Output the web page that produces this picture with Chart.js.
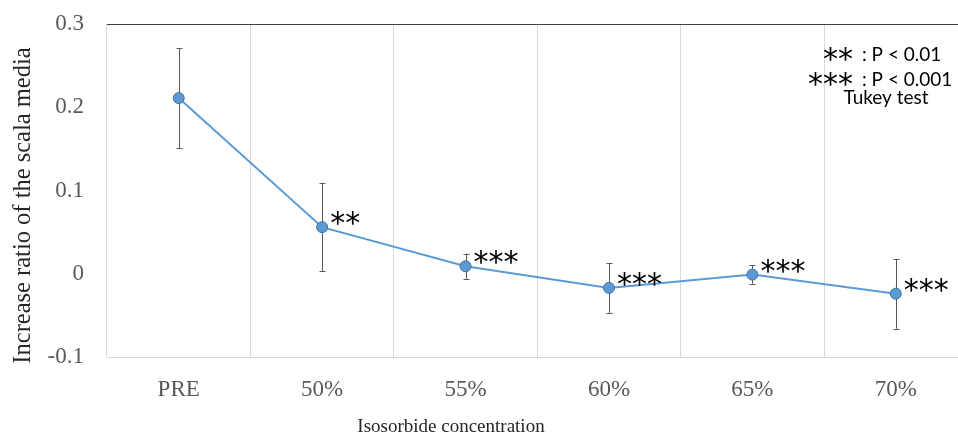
<!DOCTYPE html>
<html lang="en">
<head>
<meta charset="utf-8">
<title>Isosorbide concentration</title>
<script src="https://cdn.jsdelivr.net/npm/chart.js@4/dist/chart.umd.min.js"></script>
<style>
    html, body {
        margin: 0;
        padding: 0;
        background: #FFFFFF;
        overflow: hidden;
    }

    #chartWrap {
        width: 974px;
        height: 438px;
    }
</style>
</head>
<body>

<div id="chartWrap">
    <canvas id="ratioChart" width="974" height="438"></canvas>
</div>

<script>
"use strict";

/*==========================================================
    DATA
==========================================================*/

const categories = ["PRE", "50%", "55%", "60%", "65%", "70%"];

const meanValues = [0.211, 0.056, 0.009, -0.017, -0.001, -0.024];

const errorValues = [0.060, 0.053, 0.015, 0.030, 0.011, 0.042];

const significance = ["", "**", "***", "***", "***", "***"];

const yTickLabels = ["-0.1", "0", "0.1", "0.2", "0.3"];

const legendRows = [
    { stars: "**", text: ": P < 0.01" },
    { stars: "***", text: ": P < 0.001" }
];

const legendNote = "Tukey test";

const xTitle = "Isosorbide concentration";
const yTitle = "Increase ratio of the scala media";



/*==========================================================
    STYLE
==========================================================*/

const SERIF = "'Liberation Serif', 'Times New Roman', serif";
const STAR_FONT = "30px 'DejaVu Sans', sans-serif";
const NOTE_FONT = "19px Lato, 'Liberation Sans', sans-serif";

const LINE_BLUE = "#5B9BD5";
const POINT_EDGE = "#41719C";
const ERROR_GRAY = "#595959";
const GRID_GRAY = "#D9D9D9";



/*==========================================================
    HELPERS
==========================================================*/

// draw a glyph run vertically centred on cy, whatever the font's metrics
function drawCentered(ctx, text, x, cy) {

    const m = ctx.measureText(text);
    const offset = (m.actualBoundingBoxAscent - m.actualBoundingBoxDescent) / 2;

    ctx.fillText(text, x, cy + offset);

}



/*==========================================================
    PLUGINS
==========================================================*/

const errorBarPlugin = {

    id: "errorBars",

    beforeDatasetsDraw(chart) {

        const ctx = chart.ctx;
        const y = chart.scales.y;
        const meta = chart.getDatasetMeta(0);

        ctx.save();
        ctx.strokeStyle = ERROR_GRAY;
        ctx.lineWidth = 1;

        meta.data.forEach((pt, i) => {

            const top = y.getPixelForValue(meanValues[i] + errorValues[i]);
            const bottom = y.getPixelForValue(meanValues[i] - errorValues[i]);
            const x = Math.round(pt.x) + 0.5;

            ctx.beginPath();
            ctx.moveTo(x, top);
            ctx.lineTo(x, bottom);
            ctx.moveTo(x - 3, Math.round(top) + 0.5);
            ctx.lineTo(x + 3, Math.round(top) + 0.5);
            ctx.moveTo(x - 3, Math.round(bottom) + 0.5);
            ctx.lineTo(x + 3, Math.round(bottom) + 0.5);
            ctx.stroke();

        });

        ctx.restore();

    }

};


const annotationPlugin = {

    id: "annotations",

    afterDatasetsDraw(chart) {

        const ctx = chart.ctx;
        const meta = chart.getDatasetMeta(0);
        const area = chart.chartArea;

        ctx.save();
        ctx.fillStyle = "#000000";
        ctx.textBaseline = "alphabetic";

        // significance marks beside each point
        ctx.font = STAR_FONT;
        ctx.textAlign = "left";

        meta.data.forEach((pt, i) => {

            if (!significance[i]) return;

            drawCentered(ctx, significance[i], pt.x + 8, pt.y - 9);

        });

        // key, top right
        legendRows.forEach((row, i) => {

            const cy = 54 + i * 25;

            ctx.font = STAR_FONT;
            ctx.textAlign = "right";
            drawCentered(ctx, row.stars, 853, cy);

            ctx.font = NOTE_FONT;
            ctx.textAlign = "left";
            drawCentered(ctx, row.text, 862, cy);

        });

        ctx.font = NOTE_FONT;
        ctx.textAlign = "center";
        drawCentered(ctx, legendNote, 886, 98);

        // axis titles
        ctx.fillStyle = "#262626";
        ctx.font = "19px " + SERIF;
        ctx.textAlign = "center";
        drawCentered(ctx, xTitle, 451, 425);

        ctx.translate(21, (area.top + area.bottom) / 2 + 15);
        ctx.rotate(-Math.PI / 2);
        ctx.font = "24.5px " + SERIF;
        drawCentered(ctx, yTitle, 0, 0);

        ctx.restore();

    }

};



/*==========================================================
    CHART
==========================================================*/

const chart = new Chart(document.getElementById("ratioChart"), {

    type: "line",

    data: {

        labels: categories,

        datasets: [
            {
                label: "Increase ratio",
                data: meanValues,
                borderColor: LINE_BLUE,
                borderWidth: 2,
                backgroundColor: LINE_BLUE,
                pointBackgroundColor: LINE_BLUE,
                pointBorderColor: POINT_EDGE,
                pointBorderWidth: 1,
                pointRadius: 5.5,
                tension: 0
            }
        ]

    },

    options: {

        responsive: false,
        animation: false,
        devicePixelRatio: 1,

        layout: {
            padding: { top: 24, right: 1, left: 0, bottom: 0 }
        },

        scales: {

            x: {
                offset: true,
                grid: {
                    offset: true,
                    color: GRID_GRAY,
                    drawTicks: false
                },
                border: { display: true, color: GRID_GRAY },
                ticks: {
                    color: "#595959",
                    font: { family: SERIF, size: 23 },
                    padding: 19,
                    maxRotation: 0
                },
                afterFit(scale) {
                    scale.height = 81;
                }
            },

            y: {
                min: -0.1,
                max: 0.3,
                grid: {
                    drawTicks: false,
                    color: (c) => {
                        if (c.index === yTickLabels.length - 1) return "#404040";
                        if (c.index === 0) return GRID_GRAY;
                        return "rgba(0,0,0,0)";
                    }
                },
                border: { display: false },
                ticks: {
                    stepSize: 0.1,
                    color: "#595959",
                    font: { family: SERIF, size: 23 },
                    padding: 23,
                    callback: (value, index) => yTickLabels[index]
                },
                afterFit(scale) {
                    scale.width = 107;
                    scale.paddingTop = 0;
                    scale.paddingBottom = 0;
                }
            }

        },

        plugins: {
            legend: { display: false },
            tooltip: { enabled: false }
        }

    },

    plugins: [errorBarPlugin, annotationPlugin]

});
</script>
</body>
</html>
